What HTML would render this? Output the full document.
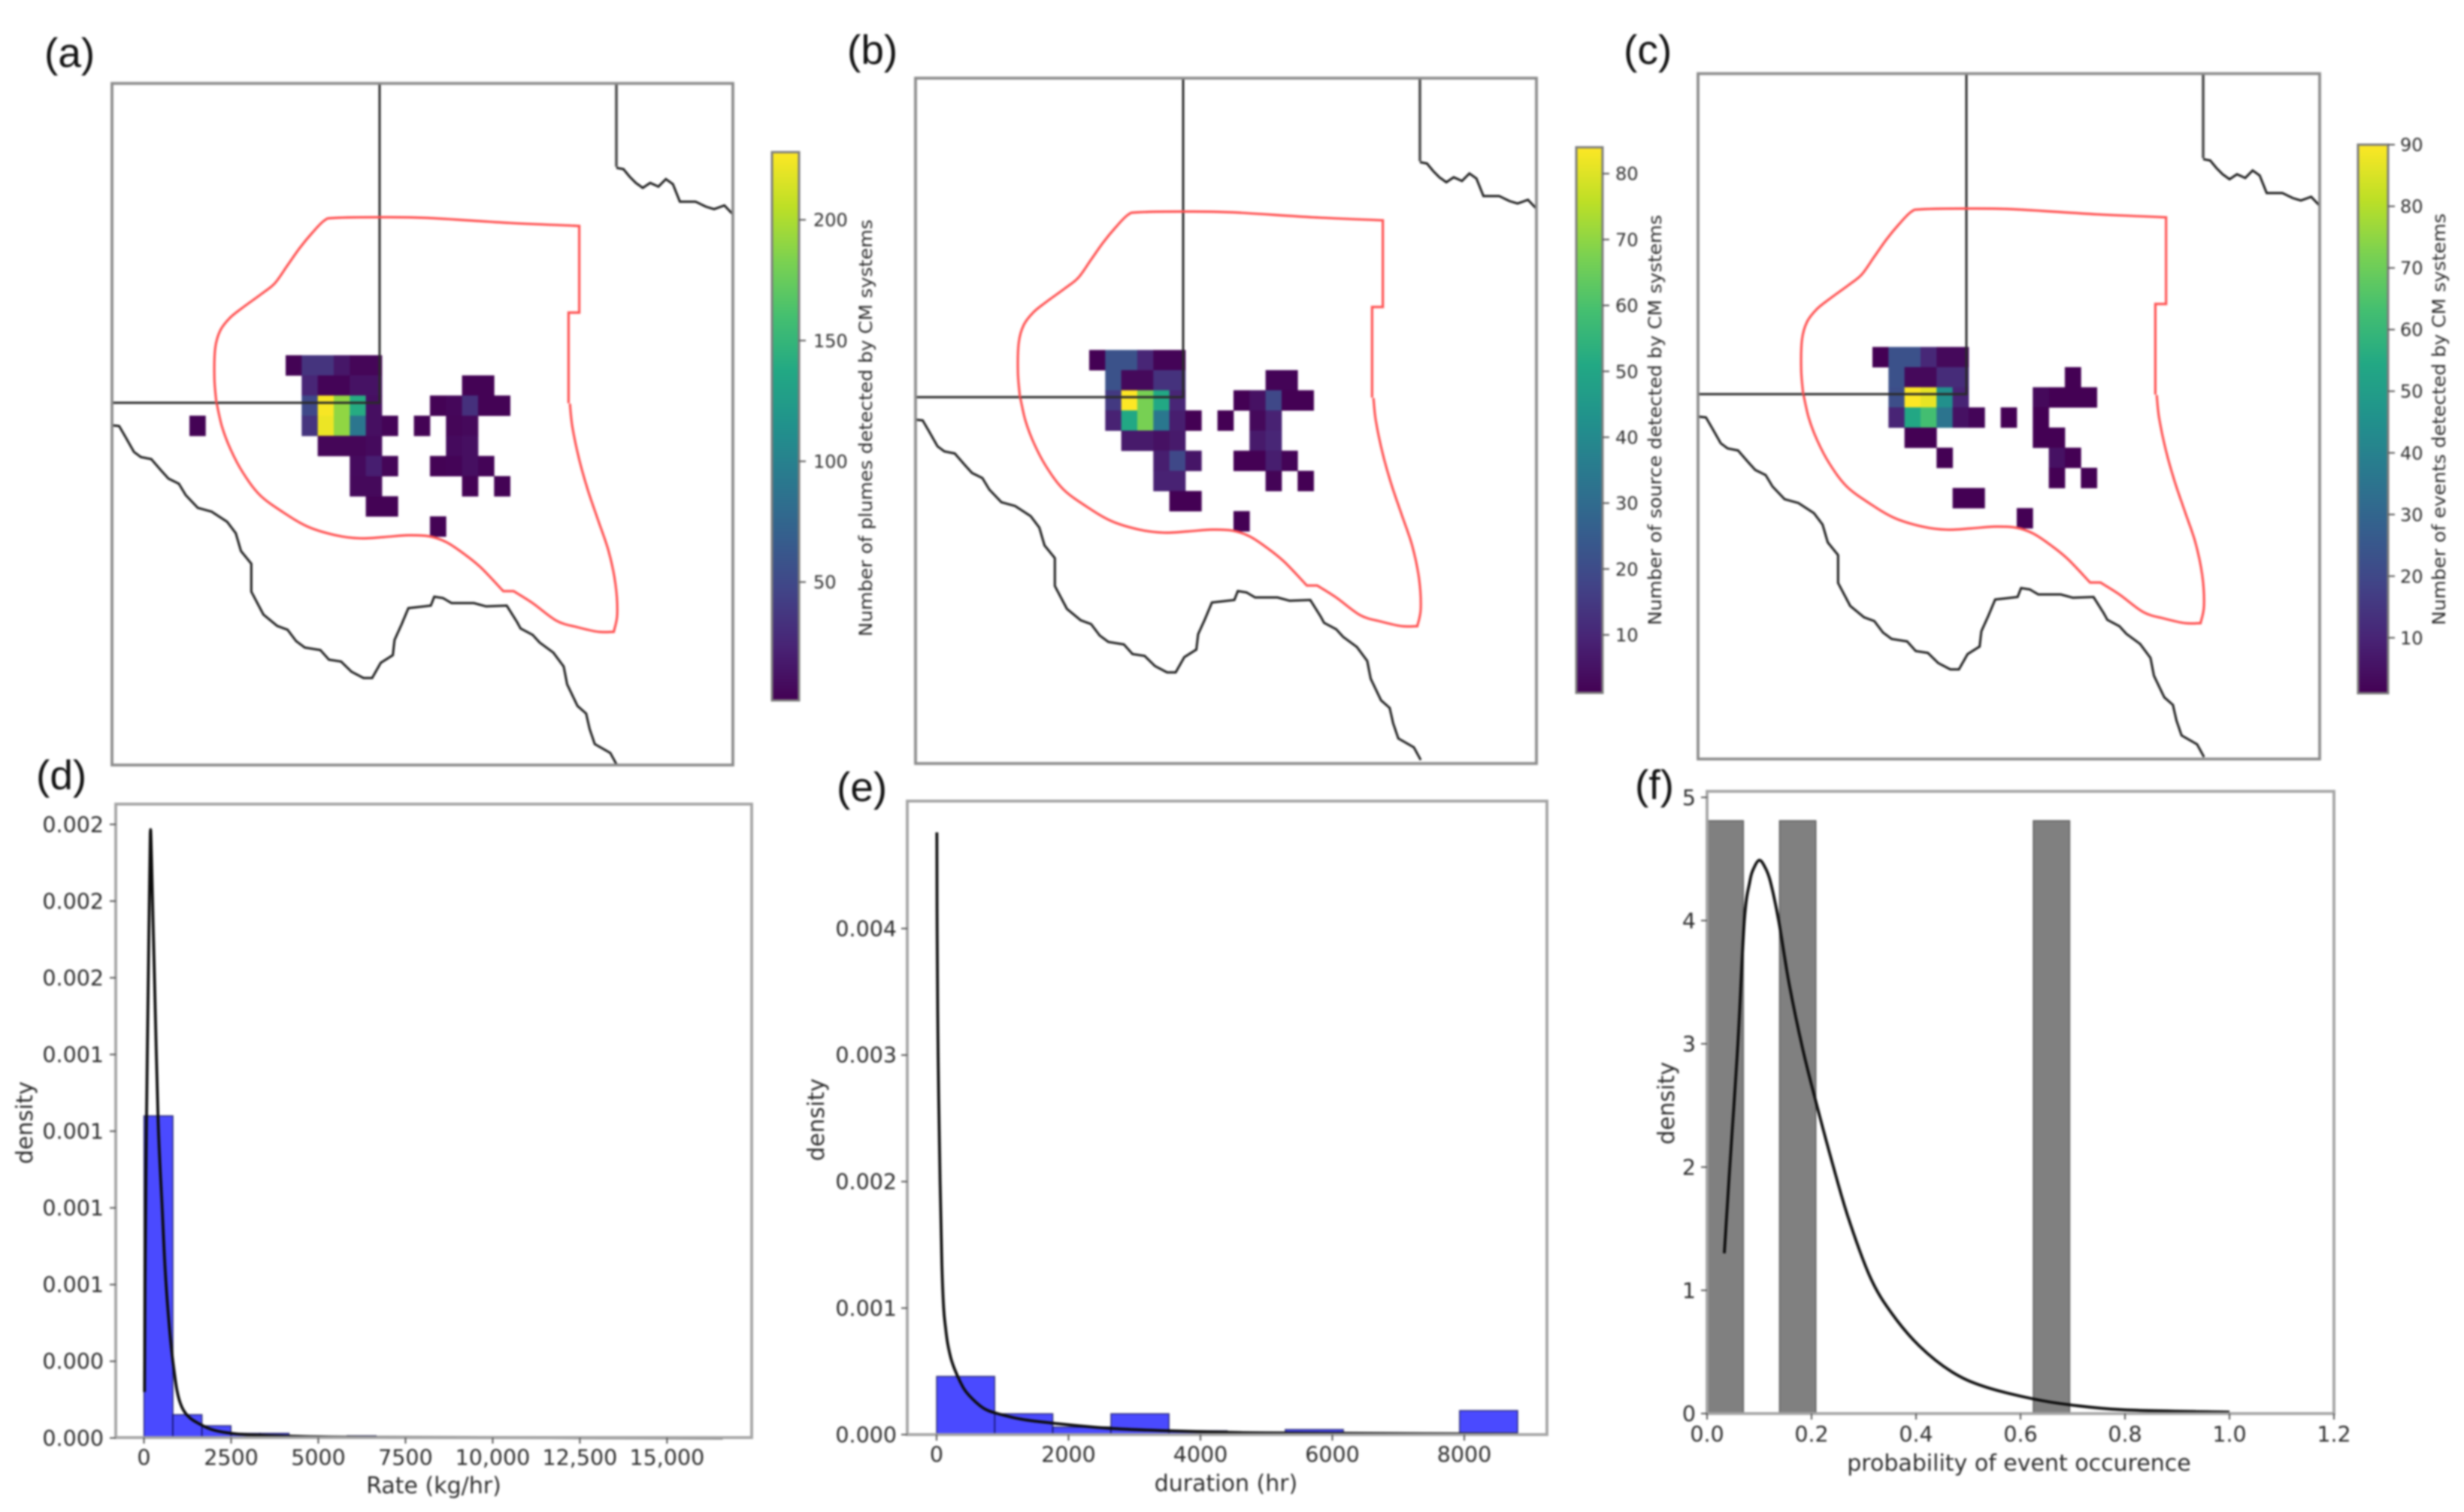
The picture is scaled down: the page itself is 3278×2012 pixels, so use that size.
<!DOCTYPE html>
<html lang="en">
<head>
<meta charset="utf-8">
<title>Plume detection maps and distributions</title>
<style>
html,body{margin:0;padding:0;background:#fff;}
body{width:3278px;height:2012px;overflow:hidden;}
#fig{display:block;filter:blur(1.4px);}
text{font-family:"DejaVu Sans","Liberation Sans",sans-serif;fill:#2c2c2c;}
.panel-label{font-family:"Liberation Sans",sans-serif;font-size:55px;fill:#111;}
</style>
</head>
<body>
<svg id="fig" xmlns="http://www.w3.org/2000/svg" width="3278" height="2012" viewBox="0 0 3278 2012">
  <rect x="0" y="0" width="3278" height="2012" fill="#fff"/>
  <defs>
    <g id="map-outline">
      <path d="M505 111 L505 536 L149 536" fill="none" stroke="#2a2a2a" stroke-width="3"/>
      <path d="M820 111 L820 222" fill="none" stroke="#4c4c4c" stroke-width="3.6"/>
      <g transform="translate(130,90) scale(0.5485,0.33333)">
        <path vector-effect="non-scaling-stroke" d="M1258 400 L1275 405 L1290 435 L1305 460 L1322 480 L1340 460 L1360 475 L1378 445 L1395 465 L1412 535 L1450 535 L1475 555 L1495 565 L1520 550 L1540 585" fill="none" stroke="#1c1c1c" stroke-width="3"/>
        <path class="smooth" vector-effect="non-scaling-stroke" d="M288 1340 L283 1240 L285 1120 L297 1050 L320 1000 L350 960 L400 900 L430 860 L460 790 L490 720 L520 660 L550 610 L575 600 L685 597 L800 600 L1000 620 L1168 632 L1168 632 L1168 978 L1168 978 L1142 978 L1142 978 L1142 1340" fill="none" stroke="#ff5252" stroke-width="3.2"/>
      </g>
      <g transform="translate(130,500) scale(0.4592,0.33801)">
        <path class="smooth" vector-effect="non-scaling-stroke" d="M345 110 L360 200 L385 290 L420 380 L470 470 L540 540 L610 595 L690 628 L760 640 L830 635 L900 628 L960 632 L1010 655 L1060 700 L1110 755 L1175 848 L1175 848 L1205 848 L1205 848 L1260 895 L1330 965 L1390 990 L1450 1008 L1495 1008 L1495 1008 L1505 940 L1500 820 L1480 690 L1450 570 L1420 450 L1395 330 L1375 200 L1368 110" fill="none" stroke="#ff5252" stroke-width="3.2"/>
        <path vector-effect="non-scaling-stroke" d="M40 195 L62 198 L80 240 L105 300 L125 320 L155 328 L185 375 L205 405 L235 425 L255 470 L290 520 L330 535 L375 575 L400 620 L415 690 L445 740 L445 850 L480 940 L520 985 L550 1000 L575 1045 L600 1070 L645 1080 L670 1118 L705 1125 L735 1165 L770 1190 L795 1190 L820 1130 L855 1100 L860 1040 L880 980 L900 915 L965 905 L975 870 L1000 875 L1025 895 L1090 895 L1125 908 L1185 905 L1215 970 L1225 995 L1260 1020 L1280 1050 L1320 1090 L1350 1145 L1360 1215 L1390 1300 L1415 1330 L1425 1390 L1440 1450 L1485 1485 L1505 1535" fill="none" stroke="#1c1c1c" stroke-width="3"/>
      </g>
    </g>
  </defs>
</svg>
<script>
// ---------- Heatmap values (rows top to bottom, 20 columns, 0 = no data) ----------
const plumesGrid = [
 [0,0,0,0,0,0, 2,35,35,15,4,4, 0,0,0,0,0,0,0,0],
 [0,0,0,0,0,0, 0,25,3,3,12,12, 0,0,0,0,0,2,2,0],
 [0,0,0,0,0,0, 0,50,226,190,140,10, 0,0,0,2,5,32,2,2],
 [2,0,0,0,0,0, 0,35,222,190,90,10, 3,0,2,0,4,6,0,0],
 [0,0,0,0,0,0, 0,0,4,4,4,7, 0,0,0,0,7,10,0,0],
 [0,0,0,0,0,0, 0,0,0,0,7,20, 4,0,0,2,3,10,3,0],
 [0,0,0,0,0,0, 0,0,0,0,6,6, 0,0,0,0,0,2,0,2],
 [0,0,0,0,0,0, 0,0,0,0,0,2, 2,0,0,0,0,0,0,0],
 [0,0,0,0,0,0, 0,0,0,0,0,0, 0,0,0,2,0,0,0,0]
];
const sourcesGrid = [
 [0,0,0,0,0,0, 1,22,22,10,2,2, 0,0,0,0,0,0,0,0],
 [0,0,0,0,0,0, 0,22,3,3,13,13, 0,0,0,0,0,2,2,0],
 [0,0,0,0,0,0, 0,15,84,67,51,10, 0,0,0,1,5,19,1,1],
 [0,0,0,0,0,0, 0,9,51,67,34,8, 1,0,1,0,3,9,0,0],
 [0,0,0,0,0,0, 0,0,7,7,5,7, 0,0,0,0,7,10,0,0],
 [0,0,0,0,0,0, 0,0,0,0,8,19, 6,0,0,1,1,8,2,0],
 [0,0,0,0,0,0, 0,0,0,0,9,9, 0,0,0,0,0,2,0,1],
 [0,0,0,0,0,0, 0,0,0,0,0,1, 1,0,0,0,0,0,0,0],
 [0,0,0,0,0,0, 0,0,0,0,0,0, 0,0,0,1,0,0,0,0]
];
const eventsGrid = [
 [0,0,0,0,0,0, 1,23,23,11,3,3, 0,0,0,0,0,0,0,0],
 [0,0,0,0,0,0, 0,23,3,3,12,12, 0,0,0,0,0,0,1,0],
 [0,0,0,0,0,0, 0,22,90,87,45,10, 0,0,0,0,3,1,1,1],
 [0,0,0,0,0,0, 0,10,54,63,35,5, 2,0,1,0,1,0,0,0],
 [0,0,0,0,0,0, 0,0,1,1,0,0, 0,0,0,0,1,1,0,0],
 [0,0,0,0,0,0, 0,0,0,0,1,0, 0,0,0,0,0,5,1,0],
 [0,0,0,0,0,0, 0,0,0,0,0,0, 0,0,0,0,0,1,0,1],
 [0,0,0,0,0,0, 0,0,0,0,0,1, 1,0,0,0,0,0,0,0],
 [0,0,0,0,0,0, 0,0,0,0,0,0, 0,0,0,1,0,0,0,0]
];
// ---------- Colorbar ticks ----------
const plumesTicks = [50,100,150,200];
const sourcesTicks = [10,20,30,40,50,60,70,80];
const eventsTicks = [10,20,30,40,50,60,70,80,90];
// ---------- Histogram (d) ----------
const rateHistDensity = [0.00105,0.000076,0.00004,0.000015,0.000015,0.000004,0.000004,0.000007,0.000002,0.000002,0.000002,0.000002,0.000002,0.000002,0.000002,0.000002,0.000002,0.000002,0.000002,0.000002];
const rateCurveX = [15,30,75,136,181,220,257,302,408,514,635,830,1090,1690,2525,4200,7000,16600];
const rateCurveY = [0.00015,0.0005,0.00105,0.0016,0.00197,0.00188,0.0017,0.0015,0.00103,0.00077,0.0005,0.00025,0.0001,0.00004,0.000015,0.000006,0.000002,0.0000002];
const rateXTicks = [0,2500,5000,7500,10000,12500,15000];
const rateXTickLabels = ["0","2500","5000","7500","10,000","12,500","15,000"];
const rateYTicks = [0,0.00025,0.0005,0.00075,0.001,0.00125,0.0015,0.00175,0.002];
const rateYTickLabels = ["0.000","0.000","0.001","0.001","0.001","0.001","0.002","0.002","0.002"];
// ---------- Histogram (e) ----------
const durationHistDensity = [0.00046,0.000165,0.00006,0.000165,0.00003,0.00002,0.00004,0.000003,0.000003,0.00019];
const durationCurveX = [4,8,23,53,80,107,135,168,230,320,430,588,740,930,1300,1770,2610,3525,4745,6270,8805];
const durationCurveY = [0.00476,0.004,0.003,0.002,0.00135,0.001,0.00085,0.00072,0.00058,0.00046,0.00035,0.00026,0.0002,0.000165,0.00012,0.00009,0.00005,0.00003,0.000015,0.00001,0.000005];
const durationXTicks = [0,2000,4000,6000,8000];
const durationYTicks = [0,0.001,0.002,0.003,0.004];
// ---------- Histogram (f) ----------
const probHistDensity = [4.81,0,4.81,0,0,0,0,0,0,4.81];
const probCurveX = [0.033,0.0435,0.059,0.0714,0.082,0.09,0.1,0.11,0.121,0.137,0.157,0.183,0.209,0.24,0.271,0.313,0.354,0.406,0.468,0.53,0.623,0.696,0.8,1.0];
const probCurveY = [1.30,2.0,3.0,4.0,4.32,4.43,4.49,4.44,4.32,4.0,3.49,2.96,2.52,2.03,1.58,1.10,0.81,0.55,0.34,0.22,0.12,0.07,0.03,0.012];
const probXTicks = [0,0.2,0.4,0.6,0.8,1.0,1.2];
const probYTicks = [0,1,2,3,4,5];
// ---------- Viridis colormap ----------
const viridis = ["#440154","#482475","#414487","#355f8d","#2a788e","#21918c","#22a884","#44bf70","#7ad151","#bddf26","#fde725"];

const NS = "http://www.w3.org/2000/svg";
const svg = document.getElementById("fig");
function mk(tag, attrs, parent){
  const n = document.createElementNS(NS, tag);
  for (const k in attrs) n.setAttribute(k, attrs[k]);
  (parent || svg).appendChild(n);
  return n;
}
function linear(d0, d1, r0, r1){ return v => r0 + (v - d0) * (r1 - r0) / (d1 - d0); }
function hex2rgb(h){ return [1,3,5].map(i => parseInt(h.substr(i,2),16)); }
function cmap(t){
  t = Math.max(0, Math.min(1, t));
  const p = t * (viridis.length - 1), i = Math.min(Math.floor(p), viridis.length - 2), f = p - i;
  const a = hex2rgb(viridis[i]), b = hex2rgb(viridis[i+1]);
  return "rgb(" + a.map((c,j) => Math.round(c + (b[j]-c)*f)).join(",") + ")";
}
// Catmull-Rom through a point list; a repeated point splits the run and makes a true corner.
function catmull(pts){
  const runs = [[pts[0]]];
  for (let i = 1; i < pts.length; i++) {
    const prev = pts[i-1], cur = pts[i];
    if (prev[0] === cur[0] && prev[1] === cur[1]) runs.push([cur]);
    else runs[runs.length-1].push(cur);
  }
  let d = "M" + pts[0][0].toFixed(2) + " " + pts[0][1].toFixed(2);
  runs.forEach(run => {
    for (let i = 0; i < run.length - 1; i++) {
      const p0 = run[Math.max(i-1,0)], p1 = run[i], p2 = run[i+1], p3 = run[Math.min(i+2,run.length-1)];
      const c1x = p1[0] + (p2[0]-p0[0])/6, c1y = p1[1] + (p2[1]-p0[1])/6;
      const c2x = p2[0] - (p3[0]-p1[0])/6, c2y = p2[1] - (p3[1]-p1[1])/6;
      d += " C" + c1x.toFixed(2) + " " + c1y.toFixed(2) + " " + c2x.toFixed(2) + " " + c2y.toFixed(2) + " " + p2[0].toFixed(2) + " " + p2[1].toFixed(2);
    }
  });
  return d;
}
document.querySelectorAll("path.smooth").forEach(p => {
  const nums = p.getAttribute("d").match(/[-\d.]+/g).map(Number);
  const pts = [];
  for (let i = 0; i < nums.length; i += 2) pts.push([nums[i], nums[i+1]]);
  p.setAttribute("d", catmull(pts));
});
const defs = svg.querySelector("defs");
const grad = mk("linearGradient", {id:"viridis-grad", x1:0, y1:1, x2:0, y2:0}, defs);
for (let i = 0; i <= 40; i++) {
  mk("stop", {offset:(i/40), "stop-color":cmap(i/40)}, grad);
}

function panelLabel(txt, x, y, name){
  const el = mk("text", {x:x, y:y, class:"panel-label"});
  
  
  el.textContent = txt;
}

function drawMapPanel(cfg){
  const g = mk("g", {});
  
  
  const colX = linear(0, 1, cfg.cellX0, cfg.cellX0 + 21.33);
  const rowY = linear(0, 1, cfg.cellY0, cfg.cellY0 + 26.8);
  const color = linear(cfg.vmin, cfg.vmax, 0, 1);
  cfg.grid.forEach((row, r) => {
    row.forEach((v, c) => {
      if (!v) return;
      const cell = mk("rect", {x:colX(c-6), y:rowY(r), width:21.7, height:27.2, fill:cmap(color(v))}, g);
      
      
    });
  });
  const outlines = mk("use", {href:"#map-outline", transform:"translate(" + cfg.dx + "," + cfg.dy + ")"}, g);
  
  
  const f = cfg.frame;
  const frame = mk("rect", {x:f[0], y:f[1], width:f[2]-f[0], height:f[3]-f[1], fill:"none", stroke:"#8c8c8c", "stroke-width":3.8}, g);
  
  
  // colorbar
  const b = cfg.bar;
  const cy = linear(cfg.vmin, cfg.vmax, b.bottom, b.top);
  const bar = mk("rect", {x:b.left, y:b.top, width:b.right-b.left, height:b.bottom-b.top, fill:"url(#viridis-grad)", stroke:"#7c7c7c", "stroke-width":3}, g);
  
  
  cfg.ticks.forEach(v => {
    const t = mk("line", {x1:b.right, x2:b.right+9, y1:cy(v), y2:cy(v), stroke:"#555", "stroke-width":2}, g);
    
    
    const l = mk("text", {x:b.labelX, y:cy(v), dy:"0.36em", "font-size":24}, g);
    
    
    l.textContent = String(v);
  });
  const cyMid = (b.titleTop + b.titleBottom) / 2;
  const title = mk("text", {x:0, y:0, "font-size":24, "text-anchor":"middle", textLength:b.titleBottom-b.titleTop, lengthAdjust:"spacingAndGlyphs", transform:"translate(" + (b.titleX+8) + "," + cyMid + ") rotate(-90)"}, g);
  
  
  title.textContent = cfg.title;
}

drawMapPanel({name:"plumes", grid:plumesGrid, vmin:1, vmax:228, cellX0:380, cellY0:472.7, dx:0, dy:0,
  frame:[149,111,975,1018], ticks:plumesTicks, title:"Number of plumes detected by CM systems",
  bar:{left:1027,right:1063,top:202.5,bottom:932,labelX:1082,titleX:1152,titleTop:292,titleBottom:847}});
drawMapPanel({name:"sources", grid:sourcesGrid, vmin:1.2, vmax:84, cellX0:1449, cellY0:465.7, dx:1069, dy:-7.5,
  frame:[1218,104,2044,1016], ticks:sourcesTicks, title:"Number of source detected by CM systems",
  bar:{left:2097,right:2132,top:196,bottom:922,labelX:2149,titleX:2202,titleTop:286,titleBottom:832}});
drawMapPanel({name:"events", grid:eventsGrid, vmin:1, vmax:90, cellX0:2491, cellY0:461.7, dx:2111, dy:-11.5,
  frame:[2259,98,3086,1010], ticks:eventsTicks, title:"Number of events detected by CM systems",
  bar:{left:3137,right:3177,top:192.5,bottom:922.5,labelX:3193,titleX:3245,titleTop:284,titleBottom:832}});

function drawHist(cfg){
  const g = mk("g", {});
  
  
  const f = cfg.frame, x = cfg.x, y = cfg.y;
  const n = cfg.hist.length, w = cfg.histMax / n;
  cfg.hist.forEach((v, i) => {
    if (!v) return;
    const bar = mk("rect", {x:x(i*w), y:y(v), width:x((i+1)*w)-x(i*w), height:y(0)-y(v), fill:cfg.fill, stroke:cfg.edge, "stroke-width":1.6}, g);
    
    
  });
  const pts = cfg.curveX.map((v,i) => [x(v), y(cfg.curveY[i])]);
  const curve = mk("path", {d:catmull(pts), fill:"none", stroke:"#0c0c0c", "stroke-width":3.8, "stroke-linejoin":"round"}, g);
  
  
  const frame = mk("rect", {x:f[0], y:f[1], width:f[2]-f[0], height:f[3]-f[1], fill:"none", stroke:"#a4a4a4", "stroke-width":3.8}, g);
  
  
  cfg.xTicks.forEach((v,i) => {
    const t = mk("line", {x1:x(v), x2:x(v), y1:f[3], y2:f[3]+8, stroke:"#555", "stroke-width":2}, g);
    
    
    const l = mk("text", {x:x(v), y:cfg.xTickY, dy:"0.36em", "font-size":28.5, "text-anchor":"middle"}, g);
    
    
    l.textContent = cfg.xTickLabels[i];
  });
  cfg.yTicks.forEach((v,i) => {
    const t = mk("line", {x1:f[0]-8, x2:f[0], y1:y(v), y2:y(v), stroke:"#555", "stroke-width":2}, g);
    
    
    const l = mk("text", {x:cfg.yTickX, y:y(v), dy:"0.36em", "font-size":28.5, "text-anchor":"end"}, g);
    
    
    l.textContent = cfg.yTickLabels[i];
  });
  const xt = mk("text", {x:cfg.xTitle[1], y:cfg.xTitle[2], dy:"0.36em", "font-size":30, "text-anchor":"middle"}, g);
  
  
  xt.textContent = cfg.xTitle[0];
  const yt = mk("text", {x:0, y:0, dy:"0.36em", "font-size":30, "text-anchor":"middle", transform:"translate(" + cfg.yTitle[0] + "," + cfg.yTitle[1] + ") rotate(-90)"}, g);
  
  
  yt.textContent = "density";
}

drawHist({name:"rate", frame:[154,1070,1000,1913], x:linear(0,15000,191.5,887.4), y:linear(0,0.002,1913.5,1097),
  hist:rateHistDensity, histMax:16640, fill:"#4a4aff", edge:"rgba(0,0,60,0.65)",
  curveX:rateCurveX, curveY:rateCurveY,
  xTicks:rateXTicks, xTickLabels:rateXTickLabels, yTicks:rateYTicks, yTickLabels:rateYTickLabels,
  xTickY:1939, yTickX:138, xTitle:["Rate (kg/hr)",577,1976], yTitle:[32,1494]});
drawHist({name:"duration", frame:[1207,1066,2058,1909], x:linear(0,8000,1246,1948), y:linear(0,0.004,1909,1235.6),
  hist:durationHistDensity, histMax:8810, fill:"#4a4aff", edge:"rgba(0,0,60,0.65)",
  curveX:durationCurveX, curveY:durationCurveY,
  xTicks:durationXTicks, xTickLabels:durationXTicks.map(String), yTicks:durationYTicks, yTickLabels:durationYTicks.map(v => v.toFixed(3)),
  xTickY:1935, yTickX:1193, xTitle:["duration (hr)",1631,1973], yTitle:[1085,1490]});
drawHist({name:"probability", frame:[2271,1053,3105,1881], x:linear(0,1.2,2271,3105), y:linear(0,5,1881,1061),
  hist:probHistDensity, histMax:0.694, fill:"#808080", edge:"#5e5e5e",
  curveX:probCurveX, curveY:probCurveY,
  xTicks:probXTicks, xTickLabels:probXTicks.map(v => v.toFixed(1)), yTicks:probYTicks, yTickLabels:probYTicks.map(String),
  xTickY:1908, yTickX:2256, xTitle:["probability of event occurence",2686,1946], yTitle:[2216,1468]});

panelLabel("(a)", 59, 89, "panel-label-a");
panelLabel("(b)", 1127, 85, "panel-label-b");
panelLabel("(c)", 2160, 85, "panel-label-c");
panelLabel("(d)", 48, 1050, "panel-label-d");
panelLabel("(e)", 1113, 1066, "panel-label-e");
panelLabel("(f)", 2175, 1063, "panel-label-f");
</script>
</body>
</html>
